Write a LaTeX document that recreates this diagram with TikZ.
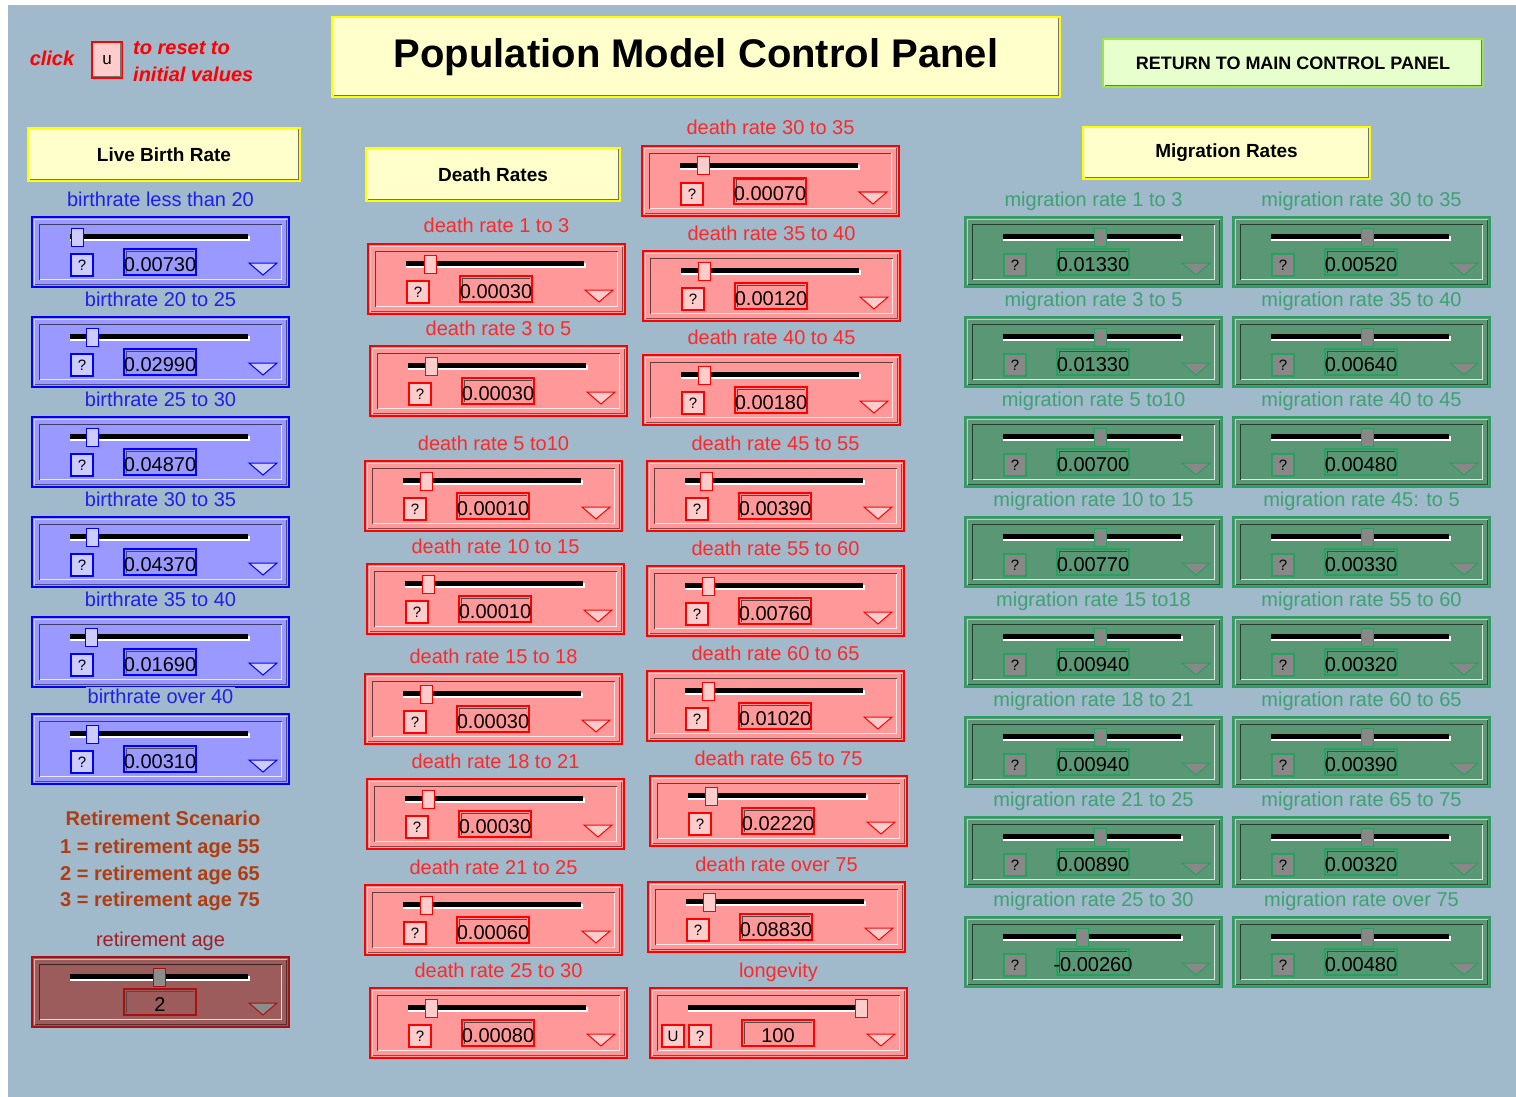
\documentclass[tikz,border=0pt]{standalone}
\usepackage{fontspec}
\setmainfont{Liberation Sans}
\usepackage{tikz}
\usetikzlibrary{calc}

\definecolor{panelbg}{RGB}{160,185,203}
\definecolor{hdrfill}{RGB}{255,255,204}
\definecolor{hdrline}{RGB}{255,255,0}
\definecolor{backfill}{RGB}{230,255,204}
\definecolor{backline}{RGB}{153,230,76}
\definecolor{birthfill}{RGB}{153,153,255}
\definecolor{birthline}{RGB}{0,0,255}
\definecolor{birthlight}{RGB}{204,204,255}
\definecolor{birthtext}{RGB}{30,30,240}
\definecolor{deathfill}{RGB}{255,153,153}
\definecolor{deathline}{RGB}{255,0,0}
\definecolor{deathlight}{RGB}{255,204,204}
\definecolor{deathtext}{RGB}{255,40,40}
\definecolor{migfill}{RGB}{90,152,117}
\definecolor{migline}{RGB}{40,160,95}
\definecolor{miglight}{RGB}{136,136,136}
\definecolor{migtext}{RGB}{60,162,112}
\definecolor{retfill}{RGB}{156,92,92}
\definecolor{retline}{RGB}{170,16,16}
\definecolor{retlight}{RGB}{140,140,140}
\definecolor{rettext}{RGB}{160,30,40}
\definecolor{scentext}{RGB}{176,60,16}

\tikzset{
  lbl/.style={fill=panelbg, inner sep=1.5pt, anchor=base, font=\fontsize{20}{24}\selectfont},
  hdr/.style={fill=hdrfill, draw=hdrline, line width=2pt, inner sep=0pt, font=\fontsize{19}{23}\selectfont\bfseries},
  dropline/.style={black!55, line width=1.5pt},
  btn/.style={minimum width=22pt, minimum height=22pt, inner sep=0pt, line width=1.5pt, font=\fontsize{15}{18}\selectfont},
  valtext/.style={inner sep=0pt, font=\fontsize{20}{24}\selectfont},
  redtext/.style={text=red, inner sep=0pt, font=\fontsize{20}{24}\selectfont\bfseries\itshape},
  scen/.style={text=scentext, inner sep=0pt, font=\fontsize{20}{24}\selectfont\bfseries},
}

% yellow header box with a dark lower edge
\newcommand{\hdrbox}[7][]{%
  \node[hdr, minimum width=#5pt, minimum height=#6pt, #1] (#2) at (#3,#4) {#7};
  \draw[dropline] ($(#2.south west)+(2.5,-2.5)$) -- ($(#2.south east)+(-2.5,-2.5)$) -- ($(#2.north east)+(-2.5,2.5)$);}

% slider: name, x, y, thumb, value, scheme, label, buttons
\newcommand{\widget}[8]{%
  \begin{scope}[shift={(#2,#3)}]
    \node[lbl, text=#6text] (#1-lbl) at (128.5,-11) {#7};
    \fill[#6fill] (0,0) rectangle (257,70);
    \draw[white!55!#6fill, line width=1.5pt] (2.5,67.5) -- (2.5,2.5) -- (254.5,2.5);
    \draw[black!50!#6fill, line width=1.5pt] (2.5,67.5) -- (254.5,67.5) -- (254.5,2.5);
    \draw[black!60!#6fill, line width=1.5pt] (7.5,62.5) -- (7.5,7.5) -- (249.5,7.5);
    \draw[white!80!#6fill, line width=1.5pt] (7.5,62.5) -- (249.5,62.5) -- (249.5,7.5);
    \draw[#6line, line width=1.5pt] (0,0) rectangle (257,70);
    \fill[white] (38,19) rectangle (218,24);
    \fill[black] (38,17) rectangle (216,22);
    \filldraw[fill=#6light, draw=#6line, line width=1pt] ({#4-6},11) rectangle ({#4+6},29);
    \draw[#6line, line width=1.5pt] (92,32) rectangle (164,58);
    \draw[black!70, line width=1pt] (94,56) -- (94,34) -- (162,34);
    \node[valtext] (#1) at (128,48) {#5};
    \filldraw[fill=#6light, draw=#6line, line width=1pt] (217,46) -- (245,46) -- (231,58) -- cycle;
    \def\wbtns{#8}%
    \ifx\wbtns\empty\else
      \foreach \bx/\bt in {#8} {\node[btn, fill=#6light, draw=#6line] (#1-b\bx) at (\bx,48) {\bt};}
    \fi
  \end{scope}}

\begin{document}
\begin{tikzpicture}[x=1pt, y=-1pt]
  \useasboundingbox (0,0) rectangle (1516,1097);
  \fill[white] (0,0) rectangle (1516,1097);
  \fill[panelbg] (8,5) rectangle (1516,1097);

  \node[redtext] (click) at (52,58) {click};
  \node[btn, fill=deathlight, draw=deathline, minimum width=30pt, minimum height=36pt, font=\fontsize{17}{20}\selectfont] (ubtn) at (107,60) {u};
  \draw[dropline] ($(ubtn.south west)+(2,-2)$) -- ($(ubtn.south east)+(-2,-2)$) -- ($(ubtn.north east)+(-2,2)$);
  \node[redtext, anchor=west] (reset1) at (133,48) {to reset to};
  \node[redtext, anchor=west] (reset2) at (133,74) {initial values};

  \hdrbox[font=\fontsize{40}{48}\selectfont\bfseries]{title}{696}{57}{728}{80}{Population Model Control Panel}
  \hdrbox[fill=backfill, draw=backline, font=\fontsize{18}{22}\selectfont\bfseries]{back}{1293}{63}{380}{48}{RETURN TO MAIN CONTROL PANEL}
  \hdrbox{birthhdr}{164}{154.5}{272}{53}{Live Birth Rate}
  \hdrbox{deathhdr}{493}{174.5}{254}{53}{Death Rates}
  \hdrbox{mighdr}{1226.5}{153}{287}{52}{Migration Rates}

  \widget{b1}{32}{217}{45}{0.00730}{birth}{birthrate less than 20}{50/?}
  \widget{b2}{32}{317}{60}{0.02990}{birth}{birthrate 20 to 25}{50/?}
  \widget{b3}{32}{417}{60}{0.04870}{birth}{birthrate 25 to 30}{50/?}
  \widget{b4}{32}{517}{60}{0.04370}{birth}{birthrate 30 to 35}{50/?}
  \widget{b5}{32}{617}{59}{0.01690}{birth}{birthrate 35 to 40}{50/?}
  \widget{b6}{32}{714}{60}{0.00310}{birth}{birthrate over 40}{50/?}

  \widget{d1}{368}{244}{62}{0.00030}{death}{death rate 1 to 3}{50/?}
  \widget{d2}{370}{346}{61}{0.00030}{death}{death rate 3 to 5}{50/?}
  \widget{d3}{365}{461}{61}{0.00010}{death}{death rate 5 to10}{50/?}
  \widget{d4}{367}{564}{61}{0.00010}{death}{death rate 10 to 15}{50/?}
  \widget{d5}{365}{674}{61}{0.00030}{death}{death rate 15 to 18}{50/?}
  \widget{d6}{367}{779}{61}{0.00030}{death}{death rate 18 to 21}{50/?}
  \widget{d7}{365}{885}{61}{0.00060}{death}{death rate 21 to 25}{50/?}
  \widget{d8}{370}{988}{61}{0.00080}{death}{death rate 25 to 30}{50/?}

  \widget{d9}{642}{146}{61}{0.00070}{death}{death rate 30 to 35}{50/?}
  \widget{d10}{643}{251}{61}{0.00120}{death}{death rate 35 to 40}{50/?}
  \widget{d11}{643}{355}{61}{0.00180}{death}{death rate 40 to 45}{50/?}
  \widget{d12}{647}{461}{59}{0.00390}{death}{death rate 45 to 55}{50/?}
  \widget{d13}{647}{566}{61}{0.00760}{death}{death rate 55 to 60}{50/?}
  \widget{d14}{647}{671}{61}{0.01020}{death}{death rate 60 to 65}{50/?}
  \widget{d15}{650}{776}{61}{0.02220}{death}{death rate 65 to 75}{50/?}
  \widget{d16}{648}{882}{61}{0.08830}{death}{death rate over 75}{50/?}
  \widget{lon}{650}{988}{211}{100}{death}{longevity}{23/U,50/?}

  \widget{m1}{965}{217}{135}{0.01330}{mig}{migration rate 1 to 3}{50/?}
  \widget{m2}{965}{317}{135}{0.01330}{mig}{migration rate 3 to 5}{50/?}
  \widget{m3}{965}{417}{135}{0.00700}{mig}{migration rate 5 to10}{50/?}
  \widget{m4}{965}{517}{135}{0.00770}{mig}{migration rate 10 to 15}{50/?}
  \widget{m5}{965}{617}{135}{0.00940}{mig}{migration rate 15 to18}{50/?}
  \widget{m6}{965}{717}{135}{0.00940}{mig}{migration rate 18 to 21}{50/?}
  \widget{m7}{965}{817}{135}{0.00890}{mig}{migration rate 21 to 25}{50/?}
  \widget{m8}{965}{917}{117}{-0.00260}{mig}{migration rate 25 to 30}{50/?}

  \widget{m9}{1233}{217}{134}{0.00520}{mig}{migration rate 30 to 35}{50/?}
  \widget{m10}{1233}{317}{134}{0.00640}{mig}{migration rate 35 to 40}{50/?}
  \widget{m11}{1233}{417}{134}{0.00480}{mig}{migration rate 40 to 45}{50/?}
  \widget{m12}{1233}{517}{134}{0.00330}{mig}{migration rate 45: to 5}{50/?}
  \widget{m13}{1233}{617}{134}{0.00320}{mig}{migration rate 55 to 60}{50/?}
  \widget{m14}{1233}{717}{134}{0.00390}{mig}{migration rate 60 to 65}{50/?}
  \widget{m15}{1233}{817}{134}{0.00320}{mig}{migration rate 65 to 75}{50/?}
  \widget{m16}{1233}{917}{134}{0.00480}{mig}{migration rate over 75}{50/?}

  \node[scen] (scen0) at (163,818) {Retirement Scenario};
  \node[scen] (scen1) at (160,848) {1 = retirement age 55};
  \node[scen] (scen2) at (160,875) {2 = retirement age 65};
  \node[scen] (scen3) at (160,901) {3 = retirement age 75};
  \widget{ret}{32}{957}{127}{2}{ret}{retirement age}{}
\end{tikzpicture}
\end{document}
